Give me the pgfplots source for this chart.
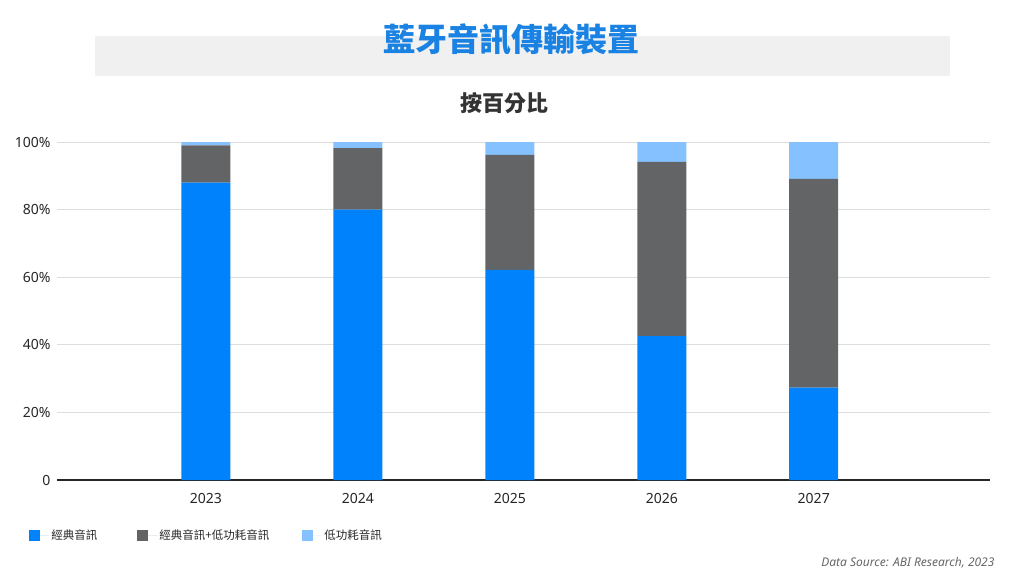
\documentclass[border=0pt]{standalone}
\usepackage{fontspec}
\setmainfont{Noto Sans}
\newfontfamily\cjk{Noto Sans CJK TC}
\usepackage{pgfplots}
\pgfplotsset{compat=1.18}

\definecolor{classic}{HTML}{0082FC}
\definecolor{dual}{HTML}{636466}
\definecolor{lowe}{HTML}{85C1FF}
\definecolor{titleblue}{HTML}{1A82E2}
\definecolor{boxgray}{HTML}{F0F0F0}
\definecolor{gridgray}{HTML}{DDDDDD}

\begin{document}
\begin{tikzpicture}[x=1pt,y=-1pt]
\path[use as bounding box] (0,0) rectangle (1014,580);
\fill[boxgray] (95,36) rectangle (950,76);
\node[text=titleblue, font=\fontsize{32}{36}\selectfont\cjk\bfseries] at (511,40) {藍牙音訊傳輸裝置};
\node[text=black!80, font=\fontsize{22}{25}\selectfont\cjk\bfseries] at (504,103) {按百分比};

\begin{axis}[
    at={(57pt,-480pt)}, anchor=south west,
    scale only axis,
    width=933pt, height=338pt,
    ybar stacked,
    bar width=49pt,
    xmin=2022.02, xmax=2028.16,
    ymin=0, ymax=100,
    xtick={2023,2024,2025,2026,2027},
    xticklabels={2023,2024,2025,2026,2027},
    ytick={0,20,40,60,80,100},
    yticklabels={0,20\%,40\%,60\%,80\%,100\%},
    major tick length=0pt,
    axis line style={draw=none},
    ymajorgrids=true,
    grid style={gridgray, line width=1pt},
    tick label style={font=\fontsize{14}{16}\selectfont, text=black!85},
    yticklabel style={xshift=-3pt},
    xticklabel style={yshift=-10pt},
    legend style={at={(rel axis cs:-0.033,-0.163)}, anchor=west, draw=none, fill=none,
        legend columns=3, font=\fontsize{11.5}{13}\selectfont\cjk, text=black!85,
        /tikz/every even column/.append style={column sep=0pt}},
    legend image code/.code={\fill[#1] (0pt,-5.5pt) rectangle (11pt,5.5pt); \path (0pt,0pt) -- (20pt,0pt);},
    legend cell align=left,
]
\addplot[fill=classic, draw=none] coordinates {(2023,88) (2024,80) (2025,62.2) (2026,42.6) (2027,27.3)};
\addplot[fill=dual, draw=none] coordinates {(2023,11) (2024,18.2) (2025,34) (2026,51.5) (2027,61.8)};
\addplot[fill=lowe, draw=none] coordinates {(2023,1) (2024,1.8) (2025,3.8) (2026,5.9) (2027,10.9)};
\legend{\makebox[84pt][l]{經典音訊}, \makebox[141pt][l]{經典音訊+低功耗音訊}, 低功耗音訊}
\draw[black!85, line width=1.3pt] (rel axis cs:0,0) -- (rel axis cs:1,0);
\end{axis}

\node[anchor=east, text=black!60, font=\fontsize{12}{14}\selectfont\itshape] at (998,563) {Data Source: ABI Research, 2023};
\end{tikzpicture}
\end{document}
